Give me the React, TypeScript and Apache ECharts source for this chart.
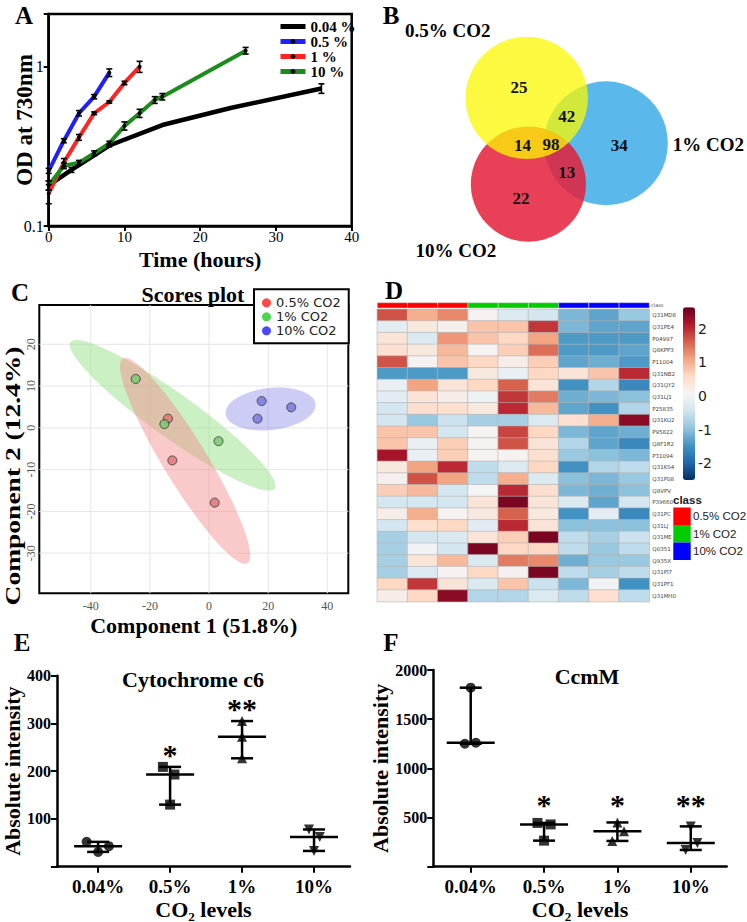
import React, { useEffect, useRef } from "react";
import * as echarts from "echarts";

const SERIF = "'Liberation Serif', 'Times New Roman', serif";
const SANS = "'DejaVu Sans', 'Liberation Sans', sans-serif";
const LSANS = "'Liberation Sans', Arial, sans-serif";

// ---------- Panel A : growth curves ----------
const growthNames = ["0.04 %", "0.5 %", "1 %", "10 %"];
const growthColors = ["#000000", "#1f1fff", "#ff2424", "#1c8c1c"];
const growth004 = [[0, 0.18], [3, 0.225], [8, 0.32], [15, 0.43], [24, 0.55], [36, 0.73]];
const growth05 = [[0, 0.222], [2, 0.343], [4, 0.51], [6, 0.648], [8, 0.917]];
const growth1 = [[0, 0.16], [2, 0.25], [4, 0.36], [6, 0.51], [8, 0.6], [10, 0.79], [12, 1.0]];
const growth10 = [[0, 0.18], [2, 0.239], [4, 0.25], [6, 0.286], [8, 0.33], [10, 0.425], [12, 0.51], [14, 0.618], [15, 0.648], [26, 1.26]];
const err004 = [0.012, 0.008, 0.006, 0, 0, 0.05];
const err05 = [0.008, 0.01, 0.02, 0.02, 0.05];
const err1 = [0.022, 0.015, 0.015, 0.01, 0.01, 0.02, 0.08];
const err10 = [0.012, 0.01, 0.008, 0.01, 0.01, 0.025, 0.03, 0.03, 0.03, 0.06];

// ---------- Panel B : Venn ----------
const vennSetNames = ["0.5% CO2", "1% CO2", "10% CO2"];
const vennCenters = [[6.53, 4.08], [9.83, 5.97], [6.6, 7.67]];
const vennRadii = [2.55, 2.58, 2.4];
const vennFills = ["rgba(251,248,0,0.75)", "rgba(90,184,234,1)", "rgba(228,31,58,0.85)"];
const vennDrawOrder = [1, 2, 0];
const vennNamePos = [[3.24, 1.29], [14.1, 6.04], [3.58, 10.45]];
const vennCounts = [25, 42, 14, 98, 34, 13, 22];
const vennCountPos = [[6.21, 3.63], [8.2, 4.86], [6.35, 6.07], [7.54, 6.04], [10.39, 6.07], [8.2, 7.18], [6.29, 8.29]];

// ---------- Panel C : PLS-DA scores ----------
const scoreGroups = ["0.5% CO2", "1% CO2", "10% CO2"];
const scorePointColors = ["#e07070", "#74c86c", "#7474dc"];
const scoreLegendColors = ["#ff1a1a", "#22cc22", "#1a1aff"];
const scores05 = [[-13.9, 2.2], [-12.4, -7.8], [1.9, -17.9]];
const scores1 = [[-24.8, 11.7], [-15.1, 0.9], [3.2, -3.2]];
const scores10 = [[17.8, 6.4], [27.8, 4.9], [16.4, 2.2]];
const ellipseCenters = [[-12.3, 3.0], [-8.1, -7.9], [20.8, 4.5]];
const ellipseMajor = [[34.5, -17.5], [21.1, -24.5], [15.2, 1.2]];
const ellipseMinor = [[4.3, 4.3], [6.3, 2.75], [0.8, -5.0]];
const ellipseFills = ["rgba(140,222,124,0.45)", "rgba(245,135,135,0.45)", "rgba(120,120,228,0.38)"];
const cGridX = [-40, -20, 0, 20, 40];
const cGridY = [-30, -20, -10, 0, 10, 20];

// ---------- Panel D : heatmap ----------
const heatCols = ["s1", "s2", "s3", "s4", "s5", "s6", "s7", "s8", "s9"];
const heatClass = [0, 0, 0, 1, 1, 1, 2, 2, 2];
const classNames = ["0.5% CO2", "1% CO2", "10% CO2"];
const classColors = ["#ff0000", "#00cc00", "#0000ff"];
const heatRows = ["Q31MD8", "Q31PE4", "P04997", "Q8KPP3", "P11004", "Q31NB2", "Q31QY2", "Q31LJ1", "P25835", "Q31KU2", "P95822", "Q8F1R2", "P31094", "Q31KS4", "Q31P08", "Q8VPV", "P39660", "Q31PC", "Q31LJ", "Q31ME", "Q0351", "Q935X", "Q31PI7", "Q31PF1", "Q31MH0"];
const heatValues = [
  [1.7, 1.0, 1.3, 0.1, -0.3, -0.4, -1.1, -1.3, -0.9],
  [-0.2, 0.3, 0.15, 0.8, 0.8, 1.9, -1.1, -1.3, -1.3],
  [0.4, -0.3, 1.2, 0.8, 0.6, 1.1, -1.4, -1.4, -1.4],
  [0.5, 0.3, 0.9, 0.1, 0.7, 1.5, -1.4, -1.4, -1.3],
  [1.7, 0.1, 0.8, 0.6, 0.2, 0.7, -1.3, -1.2, -1.4],
  [-1.4, -1.4, -1.4, 0.3, -0.1, 0.6, 0.4, 0.8, 2.0],
  [-0.1, 1.1, 0.4, 0.6, 1.6, 0.4, -1.5, -0.7, -1.6],
  [-0.2, 0.4, 0.2, -0.05, 1.9, 1.4, -1.2, -1.1, -1.0],
  [-0.4, 0.5, 0.5, 0.3, 2.0, 0.9, -1.3, -1.5, -0.7],
  [-0.4, -0.9, -0.5, -0.8, -0.8, -0.3, 0.5, 1.0, 2.4],
  [0.8, 0.8, -0.4, 0.1, 1.8, 0.6, -1.1, -1.3, -1.2],
  [0.8, -0.1, 0.7, 0.1, 1.7, 0.4, -0.7, -1.3, -1.6],
  [2.2, -0.1, 0.7, 0.1, 0.1, 0.5, -0.9, -1.0, -1.1],
  [0.3, 1.1, 2.0, -0.6, -0.3, 0.6, -1.5, -0.7, -0.6],
  [0.15, 1.7, 1.1, -0.6, 1.0, -0.3, -1.0, -1.1, -0.9],
  [0.7, 0.9, -0.4, 0.05, 2.0, 0.5, -1.1, -1.2, -1.0],
  [-0.4, -0.4, -0.4, 0.4, 2.5, 0.4, -0.3, -1.3, -0.4],
  [0.2, 1.0, 0.1, 0.3, 1.6, 0.3, -1.5, -0.2, -1.6],
  [-0.4, 0.5, 0.6, -0.2, 2.0, 0.4, -1.0, -1.0, -1.0],
  [-0.8, -0.4, -0.3, 0.4, 0.7, 2.5, -0.6, -0.8, -0.5],
  [-0.8, 0.0, -0.4, 2.5, 0.6, 0.6, -0.6, -0.9, -0.6],
  [-0.8, 0.4, 0.9, -0.3, 1.4, 1.3, -1.2, -0.9, -0.9],
  [-0.8, -0.3, 0.1, 0.6, 0.15, 2.5, -0.6, -0.8, -0.6],
  [0.6, 1.9, 0.4, -0.3, 0.8, -0.5, -1.1, 0.0, -1.5],
  [0.2, 0.6, 2.4, -0.7, -0.7, -0.3, -0.6, 0.5, -0.6],
];
const heatScaleTicks = [-2, -1, 0, 1, 2];
const rdBu = ["#053061", "#2166ac", "#4393c3", "#92c5de", "#d1e5f0", "#f4f4f4", "#fddbc7", "#f4a582", "#d6604d", "#b2182b", "#67001f"];

// ---------- Panels E / F ----------
const coLevels = ["0.04%", "0.5%", "1%", "10%"];
const cytoValues = [[52, 31, 43], [209, 193, 130], [305, 272, 227], [78, 62, 33]];
const cytoJitter = [[-0.16, 0, 0.15], [-0.1, 0.06, 0], [0, 0, 0], [-0.07, 0.08, 0]];
const cytoStars = ["", "*", "**", ""];
const cytoStarY = [0, 245, 341, 0];
const ccmValues = [[1820, 1250, 1260], [445, 430, 265], [450, 360, 262], [410, 240, 170]];
const ccmJitter = [[0, -0.08, 0.07], [-0.09, 0.09, 0], [0, 0.09, -0.07], [0, 0.09, -0.07]];
const ccmStars = ["", "*", "*", "**"];
const ccmStarY = [0, 680, 680, 680];
const groupSymbols = ["circle", "rect", "triangle", "path://M0,0 L10,0 L5,10 Z"];

function statsOf(vals: number[][]) {
  return vals.map((v, i) => {
    const s = [...v].sort((a, b) => a - b);
    return [i, s[0], s[1], s[2]];
  });
}

function medianRangeRender(params: any, api: any) {
  const i = api.value(0);
  const pLo = api.coord([i, api.value(1)]);
  const pMed = api.coord([i, api.value(2)]);
  const pHi = api.coord([i, api.value(3)]);
  const st = { stroke: "#000", lineWidth: 2.5 };
  return {
    type: "group",
    children: [
      { type: "line", shape: { x1: pMed[0] - 24, y1: pMed[1], x2: pMed[0] + 24, y2: pMed[1] }, style: st },
      { type: "line", shape: { x1: pLo[0], y1: pLo[1], x2: pHi[0], y2: pHi[1] }, style: st },
      { type: "line", shape: { x1: pLo[0] - 11, y1: pLo[1], x2: pLo[0] + 11, y2: pLo[1] }, style: st },
      { type: "line", shape: { x1: pHi[0] - 11, y1: pHi[1], x2: pHi[0] + 11, y2: pHi[1] }, style: st },
    ],
  };
}

function starsRender(stars: string[]) {
  return (params: any, api: any) => {
    const i = params.dataIndex;
    if (!stars[i]) return { type: "group", children: [] };
    const p = api.coord([api.value(0), api.value(1)]);
    return {
      type: "text",
      x: p[0],
      y: p[1] + 5,
      style: { text: stars[i], font: `bold 30px ${SERIF}`, fill: "#000", textAlign: "center", textVerticalAlign: "middle" },
    };
  };
}

function buildOption() {
  const series: any[] = [];

  // A lines
  const growthData = [growth004, growth05, growth1, growth10];
  const growthErr = [err004, err05, err1, err10];
  growthData.forEach((d, k) => {
    series.push({
      type: "line",
      name: growthNames[k],
      xAxisIndex: 0,
      yAxisIndex: 0,
      data: d,
      symbol: k === 0 ? "none" : "circle",
      symbolSize: 4,
      itemStyle: { color: "#000" },
      lineStyle: { color: growthColors[k], width: k === 0 ? 4.5 : 4 },
      z: 2,
    });
  });
  const errData: number[][] = [];
  growthData.forEach((d, k) => d.forEach((p, j) => { if (growthErr[k][j] > 0) errData.push([p[0], p[1], growthErr[k][j]]); }));
  series.push({
    type: "custom",
    name: "errA",
    xAxisIndex: 0,
    yAxisIndex: 0,
    data: errData,
    z: 3,
    renderItem: (params: any, api: any) => {
      const x = api.value(0), y = api.value(1), e = api.value(2);
      const lo = api.coord([x, y - e]);
      const hi = api.coord([x, y + e]);
      const st = { stroke: "#000", lineWidth: 1.6 };
      return {
        type: "group",
        children: [
          { type: "line", shape: { x1: lo[0], y1: lo[1], x2: hi[0], y2: hi[1] }, style: st },
          { type: "line", shape: { x1: lo[0] - 3, y1: lo[1], x2: lo[0] + 3, y2: lo[1] }, style: st },
          { type: "line", shape: { x1: hi[0] - 3, y1: hi[1], x2: hi[0] + 3, y2: hi[1] }, style: st },
        ],
      };
    },
  });

  // B venn circles
  series.push({
    type: "custom",
    name: "vennCircles",
    xAxisIndex: 1,
    yAxisIndex: 1,
    data: vennDrawOrder.map((k) => [vennCenters[k][0], vennCenters[k][1], vennRadii[k], k]),
    renderItem: (params: any, api: any) => {
      const c = api.coord([api.value(0), api.value(1)]);
      const r = api.size([api.value(2), 0])[0];
      const k = api.value(3);
      return { type: "circle", shape: { cx: c[0], cy: c[1], r }, style: { fill: vennFills[k] } };
    },
  });
  series.push({
    type: "custom",
    name: "vennCounts",
    xAxisIndex: 1,
    yAxisIndex: 1,
    z: 4,
    data: vennCountPos.map((p, i) => [p[0], p[1], vennCounts[i]]),
    renderItem: (params: any, api: any) => {
      const c = api.coord([api.value(0), api.value(1)]);
      return { type: "text", x: c[0], y: c[1], style: { text: String(api.value(2)), font: `bold 17px ${SERIF}`, fill: "#111", textAlign: "center", textVerticalAlign: "middle" } };
    },
  });
  series.push({
    type: "custom",
    name: "vennNames",
    xAxisIndex: 1,
    yAxisIndex: 1,
    z: 4,
    data: vennNamePos.map((p) => [p[0], p[1]]),
    renderItem: (params: any, api: any) => {
      const c = api.coord([api.value(0), api.value(1)]);
      return { type: "text", x: c[0], y: c[1], style: { text: vennSetNames[params.dataIndex], font: `bold 19px ${SERIF}`, fill: "#000", textAlign: "center", textVerticalAlign: "middle" } };
    },
  });

  // C gridlines
  series.push({
    type: "custom",
    name: "cGrid",
    xAxisIndex: 2,
    yAxisIndex: 2,
    z: 0,
    data: [...cGridX.map((v) => [0, v]), ...cGridY.map((v) => [1, v])],
    renderItem: (params: any, api: any) => {
      const cs = params.coordSys;
      const kind = api.value(0), v = api.value(1);
      const st = { stroke: "#e6e6e6", lineWidth: 1 };
      if (kind === 0) {
        const x = api.coord([v, 0])[0];
        return { type: "line", shape: { x1: x, y1: cs.y, x2: x, y2: cs.y + cs.height }, style: st };
      }
      const y = api.coord([0, v])[1];
      return { type: "line", shape: { x1: cs.x, y1: y, x2: cs.x + cs.width, y2: y }, style: st };
    },
  });
  // C ellipses
  series.push({
    type: "custom",
    name: "cEllipses",
    xAxisIndex: 2,
    yAxisIndex: 2,
    z: 1,
    data: ellipseCenters.map((c) => [c[0], c[1]]),
    renderItem: (params: any, api: any) => {
      const i = params.dataIndex;
      const c = ellipseCenters[i], ma = ellipseMajor[i], mi = ellipseMinor[i];
      const pts: number[][] = [];
      for (let k = 0; k <= 90; k++) {
        const t = (k / 90) * Math.PI * 2;
        pts.push(api.coord([c[0] + Math.cos(t) * ma[0] + Math.sin(t) * mi[0], c[1] + Math.cos(t) * ma[1] + Math.sin(t) * mi[1]]));
      }
      return { type: "polygon", shape: { points: pts }, style: { fill: ellipseFills[i] } };
    },
  });
  [scores05, scores1, scores10].forEach((d, k) => {
    series.push({
      type: "scatter",
      name: scoreGroups[k],
      xAxisIndex: 2,
      yAxisIndex: 2,
      data: d,
      symbolSize: 9,
      z: 3,
      itemStyle: { color: scorePointColors[k], borderColor: "#333", borderWidth: 1 },
    });
  });

  // D heatmap
  const heatData: number[][] = [];
  heatValues.forEach((row, r) => row.forEach((v, c) => heatData.push([c, r, v])));
  const heatIndex = series.length;
  series.push({
    type: "heatmap",
    name: "heat",
    xAxisIndex: 3,
    yAxisIndex: 3,
    data: heatData,
    itemStyle: { borderColor: "#b4b4b4", borderWidth: 0.6 },
  });
  series.push({
    type: "custom",
    name: "classBar",
    xAxisIndex: 4,
    yAxisIndex: 4,
    data: heatClass.map((c, i) => [i, c]),
    renderItem: (params: any, api: any) => {
      const cs = params.coordSys;
      const x = api.coord([api.value(0), 0])[0];
      const w = api.size([1, 0])[0];
      return { type: "rect", shape: { x: x - w / 2, y: cs.y, width: w, height: cs.height }, style: { fill: classColors[api.value(1)], stroke: "#ddd", lineWidth: 0.5 } };
    },
  });

  // E
  const cytoPoints: any[] = [];
  cytoValues.forEach((vals, i) => vals.forEach((v, j) => cytoPoints.push({ value: [i + cytoJitter[i][j], v], symbol: groupSymbols[i] })));
  series.push({ type: "scatter", name: "cytoPts", xAxisIndex: 6, yAxisIndex: 6, data: cytoPoints, symbolSize: 10, itemStyle: { color: "#000" }, z: 3 });
  series.push({ type: "custom", name: "cytoMed", xAxisIndex: 6, yAxisIndex: 6, data: statsOf(cytoValues), renderItem: medianRangeRender, z: 4 });
  series.push({ type: "custom", name: "cytoStar", xAxisIndex: 6, yAxisIndex: 6, data: cytoStarY.map((y, i) => [i, y]), renderItem: starsRender(cytoStars), z: 4 });

  // F
  const ccmPoints: any[] = [];
  ccmValues.forEach((vals, i) => vals.forEach((v, j) => ccmPoints.push({ value: [i + ccmJitter[i][j], v], symbol: groupSymbols[i] })));
  series.push({ type: "scatter", name: "ccmPts", xAxisIndex: 7, yAxisIndex: 7, data: ccmPoints, symbolSize: 10, itemStyle: { color: "#000" }, z: 3 });
  series.push({ type: "custom", name: "ccmMed", xAxisIndex: 7, yAxisIndex: 7, data: statsOf(ccmValues), renderItem: medianRangeRender, z: 4 });
  series.push({ type: "custom", name: "ccmStar", xAxisIndex: 7, yAxisIndex: 7, data: ccmStarY.map((y, i) => [i, y]), renderItem: starsRender(ccmStars), z: 4 });

  const boldSerif = (size: number) => ({ fontFamily: SERIF, fontWeight: "bold", fontSize: size, color: "#000" });
  const hidden = { show: false };
  const blackLine = { show: true, onZero: false, lineStyle: { color: "#000", width: 2.5 } };

  const grid = [
    { left: 48.7, top: 14, width: 303, height: 212, show: true, borderColor: "#000", borderWidth: 2.5 },
    { left: 370, top: 0, width: 377, height: 280 },
    { left: 39.3, top: 305, width: 309, height: 288.3, show: true, borderColor: "#000", borderWidth: 2 },
    { left: 377.3, top: 309.3, width: 272, height: 292.4 },
    { left: 377.3, top: 302.7, width: 272, height: 5.3 },
    { left: 683, top: 307.3, width: 12, height: 172.7 },
    { left: 53.3, top: 675.7, width: 296.7, height: 191 },
    { left: 433.3, top: 670, width: 293.4, height: 196.7 },
  ];

  const xAxis = [
    {
      gridIndex: 0, type: "value", min: 0, max: 40, interval: 10,
      axisLine: blackLine,
      axisTick: { show: true, length: 5, lineStyle: { color: "#000", width: 2 } },
      axisLabel: { fontFamily: SERIF, fontSize: 15, color: "#000", margin: 3, lineHeight: 15 },
      splitLine: hidden,
      name: "Time (hours)", nameLocation: "middle", nameGap: 22, nameMoveOverlap: false, nameTextStyle: boldSerif(22),
    },
    { gridIndex: 1, type: "value", min: 0, max: 377 / 24, show: false },
    {
      gridIndex: 2, type: "value", min: -57.4, max: 47.1,
      axisLine: { show: false, onZero: false }, axisTick: { show: false },
      axisLabel: { customValues: cGridX, fontFamily: SERIF, fontSize: 12, color: "#555", margin: 7 },
      splitLine: hidden,
      name: "Component 1 (51.8%)", nameLocation: "middle", nameGap: 21, nameMoveOverlap: false, nameTextStyle: boldSerif(22),
    },
    { gridIndex: 3, type: "category", data: heatCols, show: false },
    { gridIndex: 4, type: "category", data: heatCols, show: false },
    { gridIndex: 5, type: "value", min: 0, max: 1, show: false },
    {
      gridIndex: 6, type: "value", min: -0.573, max: 3.5,
      axisLine: blackLine,
      axisTick: { show: true, customValues: [0, 1, 2, 3], length: 6, lineStyle: { color: "#000", width: 2 } },
      axisLabel: { customValues: [0, 1, 2, 3], formatter: (v: number) => coLevels[Math.round(v)], ...boldSerif(19), margin: 10 },
      splitLine: hidden,
      name: "CO\u2082 levels", nameLocation: "middle", nameGap: 32, nameTextStyle: boldSerif(22),
    },
    {
      gridIndex: 7, type: "value", min: -0.51, max: 3.49,
      axisLine: blackLine,
      axisTick: { show: true, customValues: [0, 1, 2, 3], length: 6, lineStyle: { color: "#000", width: 2 } },
      axisLabel: { customValues: [0, 1, 2, 3], formatter: (v: number) => coLevels[Math.round(v)], ...boldSerif(19), margin: 10 },
      splitLine: hidden,
      name: "CO\u2082 levels", nameLocation: "middle", nameGap: 32, nameTextStyle: boldSerif(22),
    },
  ];

  const yAxis = [
    {
      gridIndex: 0, type: "log", logBase: 10, min: 0.1, max: 2.14,
      axisLine: blackLine,
      axisTick: { show: true, length: 5, lineStyle: { color: "#000", width: 2 } },
      axisLabel: { fontFamily: SERIF, fontSize: 16, color: "#000", margin: 5, formatter: (v: number) => (Math.abs(v - 0.1) < 1e-6 ? "0.1" : Math.abs(v - 1) < 1e-6 ? "1" : "") },
      splitLine: hidden, minorTick: { show: false },
      name: "OD at 730nm", nameLocation: "middle", nameGap: 13, nameMoveOverlap: false, nameTextStyle: boldSerif(23),
    },
    { gridIndex: 1, type: "value", min: 0, max: 280 / 24, inverse: true, show: false },
    {
      gridIndex: 2, type: "value", min: -39.6, max: 29.4,
      axisLine: { show: false, onZero: false }, axisTick: { show: false },
      axisLabel: { customValues: cGridY, fontFamily: SERIF, fontSize: 12, color: "#555", margin: 2, rotate: 90 },
      splitLine: hidden,
    },
    {
      gridIndex: 3, type: "category", data: heatRows, inverse: true, position: "right",
      axisLine: hidden, axisTick: { show: false },
      axisLabel: { fontFamily: SANS, fontSize: 5.5, color: "#444", margin: 3 },
    },
    { gridIndex: 4, type: "value", min: 0, max: 1, show: false },
    {
      gridIndex: 5, type: "value", min: -2.5, max: 2.63, position: "right",
      axisLine: hidden, axisTick: { show: false }, splitLine: hidden,
      axisLabel: { customValues: heatScaleTicks, fontFamily: SANS, fontSize: 14, color: "#222", margin: 3 },
    },
    {
      gridIndex: 6, type: "value", min: 0, max: 400, interval: 100,
      axisLine: blackLine,
      axisTick: { show: true, length: 6, lineStyle: { color: "#000", width: 2 } },
      axisLabel: { ...boldSerif(16), margin: 6, formatter: (v: number) => (v === 0 ? "" : String(v)) },
      splitLine: hidden,
      name: "Absolute intensity", nameLocation: "middle", nameGap: 31, nameTextStyle: boldSerif(22),
    },
    {
      gridIndex: 7, type: "value", min: 0, max: 2000, interval: 500,
      axisLine: blackLine,
      axisTick: { show: true, length: 6, lineStyle: { color: "#000", width: 2 } },
      axisLabel: { ...boldSerif(16), margin: 6, formatter: (v: number) => (v === 0 ? "" : String(v)) },
      splitLine: hidden,
      name: "Absolute intensity", nameLocation: "middle", nameGap: 41, nameTextStyle: boldSerif(22),
    },
  ];

  const legend = [
    {
      data: growthNames, orient: "vertical", left: 278, top: 19, padding: 0,
      itemWidth: 25, itemHeight: 6, itemGap: 0,
      lineStyle: { width: 5 },
      textStyle: { fontFamily: SERIF, fontWeight: "bold", fontSize: 15, color: "#000", lineHeight: 13 },
      selectedMode: false,
    },
    {
      data: scoreGroups.map((n, k) => ({ name: n, icon: "circle", itemStyle: { color: scoreLegendColors[k], borderWidth: 0 } })),
      orient: "vertical", left: 254, top: 289.3, padding: [7, 8, 6, 8],
      itemWidth: 9, itemHeight: 9, itemGap: 1,
      backgroundColor: "#fff", borderColor: "#000", borderWidth: 2,
      textStyle: { fontFamily: SANS, fontSize: 13, color: "#222" },
      selectedMode: false,
    },
  ];

  const visualMap = [
    {
      type: "continuous", seriesIndex: heatIndex, min: -2.5, max: 2.63, calculable: false,
      left: 683, top: 307.3, itemWidth: 12, itemHeight: 172.7, padding: 0,
      inRange: { color: rdBu }, hoverLink: false,
    },
  ];

  const letter = (t: string, x: number, y: number) => ({
    type: "text", x, y, z: 10,
    style: { text: t, font: `bold 25px ${SERIF}`, fill: "#000", textAlign: "center", textVerticalAlign: "middle" },
  });
  const title = (t: string, x: number, y: number, size = 22) => ({
    type: "text", x, y, z: 10,
    style: { text: t, font: `bold ${size}px ${SERIF}`, fill: "#000", textAlign: "center", textVerticalAlign: "middle" },
  });

  const graphic: any[] = [
    letter("A", 24, 15),
    letter("B", 391, 15),
    letter("C", 20, 292),
    letter("D", 394, 290),
    letter("E", 22, 642),
    letter("F", 391, 642),
    title("Scores plot", 193, 294),
    title("Cytochrome c6", 193, 679),
    title("CcmM", 587, 676),
    {
      type: "text", x: 12, y: 476, rotation: Math.PI / 2, scaleX: 1.25, z: 10,
      style: { text: "Component 2 (12.4%)", font: `bold 22px ${SERIF}`, fill: "#000", textAlign: "center", textVerticalAlign: "middle" },
    },
    {
      type: "text", x: 651, y: 305.3, z: 10,
      style: { text: "class", font: `5px ${SANS}`, fill: "#444", textAlign: "left", textVerticalAlign: "middle" },
    },
    {
      type: "text", x: 673, y: 500, z: 10,
      style: { text: "class", font: `bold 11.5px ${LSANS}`, fill: "#222", textAlign: "left", textVerticalAlign: "middle" },
    },
  ];
  classNames.forEach((n, k) => {
    graphic.push({ type: "rect", shape: { x: 673.3, y: 507.5 + k * 17.5, width: 17.4, height: 17.5 }, style: { fill: classColors[k] }, z: 10 });
    graphic.push({
      type: "text", x: 693, y: 516.3 + k * 17.5, z: 10,
      style: { text: n, font: `11.5px ${LSANS}`, fill: "#222", textAlign: "left", textVerticalAlign: "middle" },
    });
  });

  return {
    animation: false,
    backgroundColor: "#ffffff",
    textStyle: { fontFamily: SERIF },
    grid, xAxis, yAxis, legend, visualMap, graphic, series,
  };
}

export default function App() {
  const ref = useRef<HTMLDivElement>(null);
  useEffect(() => {
    if (!ref.current) return;
    const chart = echarts.init(ref.current, null, { renderer: "svg" });
    chart.setOption(buildOption() as any);
    return () => chart.dispose();
  }, []);
  return <div ref={ref} style={{ position: "absolute", left: 0, top: 0, width: 747, height: 922, background: "#fff" }} />;
}
